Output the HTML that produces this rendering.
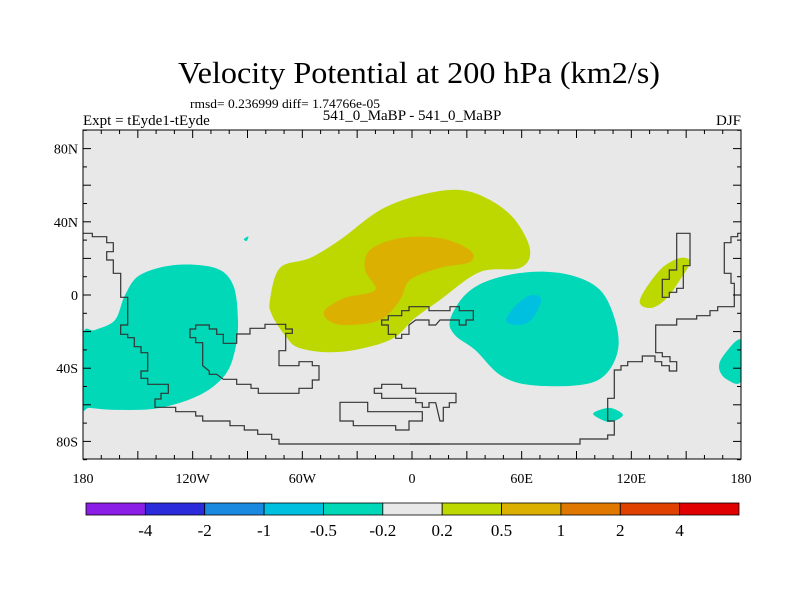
<!DOCTYPE html>
<html><head><meta charset="utf-8"><style>
body{margin:0;background:#fff}
svg{display:block;font-family:"Liberation Serif",serif}
</style></head><body>
<svg width="800" height="600" viewBox="0 0 800 600">
<text x="178" y="83" font-size="31" textLength="482" lengthAdjust="spacingAndGlyphs">Velocity Potential at 200 hPa (km2/s)</text>
<text x="190" y="108" font-size="13" textLength="190" lengthAdjust="spacingAndGlyphs">rmsd= 0.236999 diff= 1.74766e-05</text>
<text x="83" y="125" font-size="15">Expt = tEyde1-tEyde</text>
<text x="412" y="120" text-anchor="middle" font-size="15">541_0_MaBP - 541_0_MaBP</text>
<text x="741" y="125" text-anchor="end" font-size="15">DJF</text>
<g id="plot"></g>
<g id="cbar"></g>
</svg>
<script>
const regionNames=['cyan-west','cyan-east-edge','green-central','orange-central','cyan-east','blue-east','cyan-south','green-east','cyan-tiny'];
const regionLevels=[-0.2,-0.2,0.2,0.5,-0.2,-0.5,-0.2,0.2,-0.2];
const regionLon=[
[-180,-173.4,-162.5,-157,-148.8,-129.7,-107.8,-97.9,-95.2,-96.8,-102.3,-116,-137.9,-159.8,-176.2,-180],
[180,170.5,168,172,180],
[-77.7,-72.2,-55.8,-39.4,-17.5,4.4,26.3,42.7,56.4,64.6,59.1,37.2,15.3,1.6,-12.1,-39.4,-61.3,-69.5,-76.6],
[-47.6,-36.7,-20.2,-25.7,-23,-6.6,15.3,31.7,31.7,15.3,-1.1,-6.6,-17.5,-36.7,-46],
[20.8,29,42.7,64.6,86.5,102.9,111.1,112.7,105.6,91.9,64.6,48.2,34.5,23.5],
[51.5,57,65.2,70.7,65.2,57],
[100.1,108.3,115.4,108.3,100.1],
[124.7,135.7,146.6,152.1,146.6,138.4,130.2],
[-92,-89.5,-90.5]];
const regionLat=[
[-21.9,-19.1,-13.7,0,10.9,16.4,14.8,5.5,-13.7,-30,-43.7,-54.6,-61.7,-62.8,-61.7,-60.1],
[-24.6,-33,-40,-46,-47],
[-2.7,14.8,20.2,30.1,46.4,54.6,57.4,51.9,41,24.6,14.8,12.6,-2.7,-12.6,-24.6,-31.1,-29,-21.9,-10.9],
[-8.2,-1.6,2.7,13.7,24.6,31.1,31.1,24.6,18,14.8,8.2,-2.7,-13.7,-16.4,-13.7],
[-13.7,0,8.2,12.6,10.9,2.7,-13.7,-30,-43.7,-49.2,-49.2,-43.7,-30,-21.9],
[-13.7,-5.5,0,-2.7,-13.7,-16.4],
[-63.9,-61.7,-65.6,-69.4,-66.1],
[-2.7,13.7,20.2,18,8.2,-2.7,-7.1],
[30.5,32,29.5]];
const cbarLevels=['-4','-2','-1','-0.5','-0.2','0.2','0.5','1','2','4'];
const cbarColors=['#8a1ee6','#2b2bdc','#1a8ae0','#00c0e0','#00d8b8','#e8e8e8','#bcd800','#dcb000','#e07800','#e04000','#e00000'];
const xTickLabels=['180','120W','60W','0','60E','120E','180'];
const xTickLons=[-180,-120,-60,0,60,120,180];
const yTickLabels=['80N','40N','0','40S','80S'];
const yTickLats=[80,40,0,-40,-80];

const NS='http://www.w3.org/2000/svg';
const L=83,R=741,T=130,B=459;
const X=lon=>L+(lon+180)*(R-L)/360;
const Y=lat=>295-lat*1.83;
function colorFor(v){const lv=[-4,-2,-1,-0.5,-0.2,0.2,0.5,1,2,4];let i=0;while(i<lv.length&&v>=lv[i])i++;if(v<0){i=lv.findIndex(t=>v<=t);}return cbarColors[i];}
function mk(tag,attrs,parent){const e=document.createElementNS(NS,tag);for(const k in attrs)e.setAttribute(k,attrs[k]);parent.appendChild(e);return e;}
const plot=document.getElementById('plot');
const clip=mk('clipPath',{id:'pc'},mk('defs',{},plot));mk('rect',{x:L,y:T,width:R-L,height:B-T},clip);
const bg=mk('rect',{x:L,y:T,width:R-L,height:B-T,fill:'#e8e8e8'},plot);


const g=mk('g',{'clip-path':'url(#pc)'},plot);
regionLon.forEach((lons,r)=>{
  const pts=lons.map((lo,i)=>[X(lo),Y(regionLat[r][i])]);
  let d='M'+pts[0].join(',');
  const n=pts.length;
  for(let i=0;i<n;i++){const p0=pts[(i-1+n)%n],p1=pts[i],p2=pts[(i+1)%n],p3=pts[(i+2)%n];
    const c1=[p1[0]+(p2[0]-p0[0])/6,p1[1]+(p2[1]-p0[1])/6],c2=[p2[0]-(p3[0]-p1[0])/6,p2[1]-(p3[1]-p1[1])/6];
    d+=`C${c1[0]},${c1[1]} ${c2[0]},${c2[1]} ${p2[0]},${p2[1]}`;}
  const p=mk('path',{d:d+'Z',fill:colorFor(regionLevels[r])},g);
  
  
});
function coast(ox,oy,arr,close){return 'M'+arr.map(p=>(ox+p[0]/3).toFixed(1)+','+(oy+p[1]/3).toFixed(1)).join('L')+(close?'Z':'');}
const c3=[[10,40],[37,40],[37,50],[80,50],[80,68],[100,68],[100,95],[80,95],[80,120],[100,120],[100,160],[122,160],[122,232],[143,232],[143,315],[122,315],[122,343],[143,343],[143,353],[163,353],[163,380],[183,380],[183,398],[203,398],[203,453],[183,453],[183,475],[203,475],[203,493],[265,493],[265,520],[243,520],[243,537],[225,537],[225,562],[287,562],[287,575],[347,575],[347,588],[368,588],[368,603],[450,603],[450,617],[493,617],[493,630],[533,630],[533,643],[575,643],[575,658],[597,658],[597,672],[1080,672]];
const c4=[[-30,672],[480,672],[480,657],[563,657],[563,645],[583,645],[583,603],[563,603],[563,535],[583,535],[583,450],[603,450],[603,437],[623,437],[623,425],[667,425],[667,408],[705,408],[705,425],[725,425],[725,437],[748,437],[748,453],[770,453],[770,425],[750,425],[750,410],[727,410],[727,398],[707,398],[707,315],[770,315],[770,297],[830,297],[830,287],[870,287],[870,272],[893,272],[893,260],[943,260],[943,190],[933,190],[933,160],[913,160],[913,68],[933,68],[933,50],[953,50],[953,40],[965,40]];
const africa=[[430,370],[470,370],[470,342],[510,342],[510,325],[555,325],[555,313],[617,313],[617,327],[637,327],[637,340],[617,340],[617,392],[597,392],[597,437],[657,437],[657,425],[697,425],[697,437],[717,437],[717,480],[697,480],[697,505],[657,505],[657,520],[535,520],[535,505],[513,505],[513,493],[470,493],[470,478],[430,478],[410,463],[388,463],[388,453],[368,437],[368,368],[347,368],[347,353],[330,353],[330,327],[347,327],[347,315],[388,315],[388,327],[410,327],[410,343],[430,343]];
const arab=[[905,315],[905,300],[925,300],[925,287],[965,287],[965,272],[987,272],[987,260],[1047,260],[1047,272],[1110,272],[1110,260],[1138,260],[1138,272],[1180,272],[1180,300],[1158,300],[1158,315],[1138,315],[1138,300],[1080,300],[1067,315],[1047,315],[1047,300],[1007,300],[987,315],[987,343],[965,343],[965,355],[947,355],[947,343],[925,343],[925,315]];
const isl1=[[883,505],[905,505],[905,493],[965,493],[965,505],[1007,505],[1007,520],[1128,520],[1128,548],[1108,548],[1108,562],[1090,562],[1090,603],[1080,603],[1067,548],[1047,548],[1047,562],[1027,562],[1027,548],[1007,548],[1007,535],[905,535],[905,520],[883,520]];
const isl2=[[780,547],[863,547],[863,575],[1027,575],[1027,603],[987,603],[987,630],[947,630],[947,617],[820,617],[820,603],[780,603]];
const japan=[[770,40],[810,40],[810,137],[790,137],[790,205],[770,205],[770,217],[748,217],[748,232],[727,232],[727,178],[748,178],[748,150],[770,150]];
const coastPaths=[coast(80,220,c3),coast(420,220,c4),coast(80,220,africa,true),coast(80,220,arab,true),coast(80,220,isl1,true),coast(80,220,isl2,true),coast(420,220,japan,true)];
coastPaths.forEach((d,i)=>{const p=mk('path',{d:d,fill:'none',stroke:'#333',"stroke-width":1.2},g);
  
  });
const fr=mk('rect',{x:L,y:T,width:R-L,height:B-T,fill:'none',stroke:'#000','stroke-width':1},plot);


for(let lon=-180;lon<=180;lon+=10){const len=lon%30===0?8:4;
  mk('line',{x1:X(lon),x2:X(lon),y1:B,y2:B-len,stroke:'#000'},plot);
  mk('line',{x1:X(lon),x2:X(lon),y1:T,y2:T+len,stroke:'#000'},plot);}
for(let lat=-90;lat<=90;lat+=10){const len=lat%20===0?8:4;
  mk('line',{x1:L,x2:L+len,y1:Y(lat),y2:Y(lat),stroke:'#000'},plot);
  mk('line',{x1:R,x2:R-len,y1:Y(lat),y2:Y(lat),stroke:'#000'},plot);}
xTickLabels.forEach((t,i)=>{const e=mk('text',{x:X(xTickLons[i]),y:483,'text-anchor':'middle','font-size':14},plot);e.textContent=t;
  
  });
yTickLabels.forEach((t,i)=>{const e=mk('text',{x:L-5,y:Y(yTickLats[i])+5,'text-anchor':'end','font-size':14},plot);e.textContent=t;
  
  });
const cb=document.getElementById('cbar');
const cx0=86,cw=(739-86)/cbarColors.length;
cbarColors.forEach((c,i)=>{const r=mk('rect',{x:cx0+i*cw,y:503,width:cw,height:12,fill:c,stroke:'#000','stroke-width':0.8},cb);
  
  });
cbarLevels.forEach((t,i)=>{const e=mk('text',{x:cx0+(i+1)*cw,y:536,'text-anchor':'middle','font-size':17},cb);e.textContent=t;
  
  });
</script>
</body></html>
